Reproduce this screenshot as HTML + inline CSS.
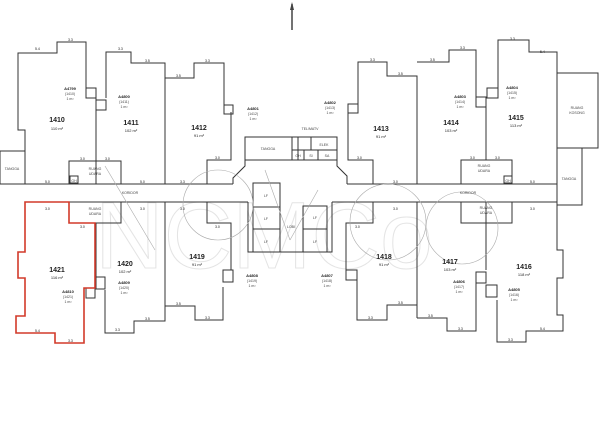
<!DOCTYPE html>
<html><head><meta charset="utf-8"><style>
html,body{margin:0;padding:0;background:#fff}
svg{display:block}
text{font-family:"Liberation Sans",sans-serif;fill:#222}
.u{font-size:7px;font-weight:bold}
.a{font-size:4px}
.d{font-size:3.5px;fill:#444}
.s{font-size:4px}
</style></head><body>
<svg width="615" height="422" viewBox="0 0 615 422" xmlns="http://www.w3.org/2000/svg">
<rect width="615" height="422" fill="#fff"/>
<!-- watermark -->
<text x="95" y="268" style="font-size:95px;fill:none;stroke:#e4e4e4;stroke-width:1" font-family="Liberation Sans">NCMCo</text>
<!-- north arrow -->
<line x1="292" y1="4" x2="292" y2="30" stroke="#444" stroke-width="1.5"/>
<polygon points="292,2 290,10 294,10" fill="#444"/>
<g fill="none" stroke="#333" stroke-width="1">
<!-- corridor -->
<polyline points="25,184 233,184"/><polyline points="347,184 557,184"/>
<polyline points="25,202 248,202"/><polyline points="332,202 557,202"/>
<!-- left tangga -->
<rect x="0" y="151" width="25" height="33"/>
<!-- right ruang kosong/tangga -->
<rect x="557" y="73" width="41" height="75"/>
<polyline points="557,148 557,205 582,205 582,148"/>
<!-- 1410 -->
<polyline points="25,184 25,130 18,130 18,53 57,53 57,42 86,42 86,88"/>
<polyline points="96,98 96,184"/>
<!-- 1411 -->
<polyline points="106,98 106,52 131,52 131,63 165,63 165,184"/>
<!-- ruang udara upper left -->
<polyline points="69,184 69,161 121,161 121,184"/>
<rect x="70" y="176" width="8" height="7"/>
<!-- 1412 -->
<polyline points="165,78 194,78 194,63 224,63 224,105"/>
<polyline points="231,112 231,160 207,160 207,184"/>
<!-- core top -->
<polyline points="233,184 233,178 245,166 245,137 337,137 337,166 347,176 347,184"/>
<rect x="245" y="137" width="47" height="23"/>
<rect x="292" y="137" width="6" height="23"/>
<rect x="298" y="137" width="13" height="13"/>
<rect x="311" y="137" width="26" height="13"/>
<line x1="292" y1="150" x2="337" y2="150"/>
<line x1="304" y1="150" x2="304" y2="160"/><line x1="318" y1="150" x2="318" y2="160"/>
<line x1="245" y1="160" x2="337" y2="160"/>
<!-- core bottom -->
<polyline points="248,202 248,252 332,252 332,202"/>
<rect x="253" y="183" width="27" height="69"/>
<line x1="253" y1="207" x2="280" y2="207"/><line x1="253" y1="229" x2="280" y2="229"/>
<rect x="303" y="206" width="24" height="46"/>
<line x1="303" y1="229" x2="327" y2="229"/>
<!-- 1421 -->
<polyline points="95,223 121,223 121,202"/>
<polyline points="96,223 96,277"/>
<!-- 1420 -->
<polyline points="105,290 105,333 134,333 134,321 165,321 165,202"/>
<!-- 1419 -->
<polyline points="165,306 195,306 195,320 223,320 223,287"/>
<polyline points="231,270 231,223 207,223 207,202"/>
<!-- 1413 -->
<polyline points="358,105 358,62 387,62 387,76 417,76 417,184"/>
<polyline points="348,113 348,160 373,160 373,184"/>
<!-- 1414 -->
<polyline points="417,62 449,62 449,50 476,50 476,97"/>
<polyline points="486,107 486,160"/>
<polyline points="461,184 461,160 512,160 512,184"/>
<rect x="504" y="176" width="8" height="7"/>
<!-- 1415 -->
<polyline points="498,88 498,40 529,40 529,52 557,52 557,184"/>
<!-- 1418 -->
<polyline points="373,202 373,223 346,223 346,270"/>
<polyline points="357,280 357,320 387,320 387,305 417,305"/>
<line x1="417" y1="202" x2="417" y2="318"/>
<!-- 1417 -->
<polyline points="417,318 447,318 447,331 476,331 476,283"/>
<polyline points="486,270 486,202"/>
<polyline points="461,202 461,223 512,223 512,202"/>
<!-- 1416 -->
<polyline points="497,300 497,342 526,342 526,331 563,331 563,315 557,315 557,278 563,278 563,250 557,250 557,202"/>
<!-- storage boxes -->
<rect x="86" y="88" width="10" height="10"/><rect x="96" y="100" width="10" height="10"/>
<rect x="224" y="105" width="9" height="9"/><rect x="348" y="104" width="10" height="9"/>
<rect x="476" y="97" width="10" height="10"/><rect x="487" y="88" width="11" height="10"/>
<rect x="86" y="288" width="9" height="10"/><rect x="96" y="277" width="9" height="12"/>
<rect x="223" y="270" width="10" height="12"/><rect x="346" y="270" width="11" height="10"/>
<rect x="476" y="272" width="10" height="11"/><rect x="486" y="285" width="11" height="12"/>
</g>
<!-- thin light lines -->
<g stroke="#aaa" stroke-width="0.6" fill="none">
<line x1="105" y1="166" x2="155" y2="250"/><line x1="265" y1="170" x2="290" y2="240"/><line x1="290" y1="240" x2="318" y2="190"/>
<circle cx="218" cy="205" r="35"/><circle cx="388" cy="222" r="38"/><circle cx="462" cy="228" r="36"/>
</g>
<!-- 1421 red -->
<polygon points="25,202 69,202 69,223 95,223 95,288 84,288 84,343 55,343 55,333 16,333 16,316 25,316 25,278 18,278 18,252 25,252" fill="none" stroke="#d23a2a" stroke-width="1.6"/>
<!-- unit labels -->
<g text-anchor="middle">
<text class="u" x="57" y="122">1410</text><text class="a" x="57" y="130">110 m²</text>
<text class="u" x="131" y="125">1411</text><text class="a" x="131" y="132">102 m²</text>
<text class="u" x="199" y="130">1412</text><text class="a" x="199" y="137">91 m²</text>
<text class="u" x="381" y="131">1413</text><text class="a" x="381" y="138">91 m²</text>
<text class="u" x="451" y="125">1414</text><text class="a" x="451" y="132">103 m²</text>
<text class="u" x="516" y="120">1415</text><text class="a" x="516" y="127">113 m²</text>
<text class="u" x="57" y="272">1421</text><text class="a" x="57" y="279">116 m²</text>
<text class="u" x="125" y="266">1420</text><text class="a" x="125" y="273">102 m²</text>
<text class="u" x="197" y="259">1419</text><text class="a" x="197" y="266">91 m²</text>
<text class="u" x="384" y="259">1418</text><text class="a" x="384" y="266">91 m²</text>
<text class="u" x="450" y="264">1417</text><text class="a" x="450" y="271">103 m²</text>
<text class="u" x="524" y="269">1416</text><text class="a" x="524" y="276">118 m²</text>
<!-- storage labels -->
<text class="s" x="70" y="90" font-weight="bold">A4799</text><text class="d" x="70" y="95">(1410)</text><text class="d" x="70" y="100">1 m²</text>
<text class="s" x="124" y="98" font-weight="bold">A4800</text><text class="d" x="124" y="103">(1411)</text><text class="d" x="124" y="108">1 m²</text>
<text class="s" x="253" y="110" font-weight="bold">A4801</text><text class="d" x="253" y="115">(1412)</text><text class="d" x="253" y="120">1 m²</text>
<text class="s" x="330" y="104" font-weight="bold">A4802</text><text class="d" x="330" y="109">(1413)</text><text class="d" x="330" y="114">1 m²</text>
<text class="s" x="460" y="98" font-weight="bold">A4803</text><text class="d" x="460" y="103">(1414)</text><text class="d" x="460" y="108">1 m²</text>
<text class="s" x="512" y="89" font-weight="bold">A4804</text><text class="d" x="512" y="94">(1415)</text><text class="d" x="512" y="99">1 m²</text>
<text class="s" x="68" y="293" font-weight="bold">A4810</text><text class="d" x="68" y="298">(1421)</text><text class="d" x="68" y="303">1 m²</text>
<text class="s" x="124" y="284" font-weight="bold">A4809</text><text class="d" x="124" y="289">(1420)</text><text class="d" x="124" y="294">1 m²</text>
<text class="s" x="252" y="277" font-weight="bold">A4808</text><text class="d" x="252" y="282">(1419)</text><text class="d" x="252" y="287">1 m²</text>
<text class="s" x="327" y="277" font-weight="bold">A4807</text><text class="d" x="327" y="282">(1418)</text><text class="d" x="327" y="287">1 m²</text>
<text class="s" x="459" y="283" font-weight="bold">A4806</text><text class="d" x="459" y="288">(1417)</text><text class="d" x="459" y="293">1 m²</text>
<text class="s" x="514" y="291" font-weight="bold">A4805</text><text class="d" x="514" y="296">(1416)</text><text class="d" x="514" y="301">1 m²</text>
<!-- room labels -->
<text class="d" x="12" y="170">TANGGA</text>
<text class="d" x="569" y="180">TANGGA</text>
<text class="d" x="577" y="109">RUANG</text><text class="d" x="577" y="114">KOSONG</text>
<text class="d" x="95" y="170">RUANG</text><text class="d" x="95" y="175">UDARA</text>
<text class="d" x="484" y="167">RUANG</text><text class="d" x="484" y="172">UDARA</text>
<text class="d" x="95" y="210">RUANG</text><text class="d" x="95" y="215">UDARA</text>
<text class="d" x="486" y="209">RUANG</text><text class="d" x="486" y="214">UDARA</text>
<text class="d" x="130" y="194">KORIDOR</text>
<text class="d" x="468" y="194">KORIDOR</text>
<text class="d" x="268" y="150">TANGGA</text>
<text class="d" x="324" y="146">ELEK</text>
<text class="d" x="310" y="130">TEL/MATV</text>
<text class="d" x="298" y="157">GH</text><text class="d" x="311" y="157">SI</text><text class="d" x="327" y="157">SA</text>
<text class="d" x="74" y="182">GH</text><text class="d" x="508" y="182">GH</text>
<text class="d" x="266" y="197">LF</text><text class="d" x="266" y="220">LF</text><text class="d" x="266" y="243">LF</text>
<text class="d" x="315" y="219">LF</text><text class="d" x="315" y="243">LF</text>
<text class="d" x="291" y="228">LOBI</text>
</g>
<!-- dimension samples -->
<g class="d">
<text x="35" y="50">5.4</text><text x="68" y="41">3.3</text><text x="118" y="50">3.3</text><text x="145" y="62">3.5</text>
<text x="176" y="77">3.5</text><text x="205" y="62">3.3</text><text x="80" y="160">3.0</text><text x="105" y="160">3.0</text>
<text x="45" y="183">5.0</text><text x="140" y="183">5.0</text><text x="180" y="183">3.3</text><text x="215" y="159">3.0</text>
<text x="370" y="61">3.3</text><text x="398" y="75">3.5</text><text x="430" y="61">3.5</text><text x="460" y="49">3.3</text>
<text x="510" y="40">3.3</text><text x="540" y="53">5.4</text><text x="470" y="159">3.0</text><text x="495" y="159">3.0</text>
<text x="393" y="183">3.0</text><text x="530" y="183">5.0</text><text x="357" y="159">3.0</text>
<text x="45" y="210">3.0</text><text x="140" y="210">3.0</text><text x="180" y="210">3.0</text><text x="80" y="228">3.0</text>
<text x="215" y="228">3.0</text><text x="393" y="210">3.0</text><text x="530" y="210">3.0</text><text x="355" y="228">3.0</text>
<text x="35" y="332">5.4</text><text x="68" y="342">3.3</text><text x="115" y="331">3.3</text><text x="145" y="320">3.5</text>
<text x="176" y="305">3.5</text><text x="205" y="319">3.3</text><text x="368" y="319">3.3</text><text x="398" y="304">3.5</text>
<text x="428" y="317">3.5</text><text x="458" y="330">3.3</text><text x="508" y="341">3.3</text><text x="540" y="330">5.4</text>
</g>
</svg>
</body></html>
